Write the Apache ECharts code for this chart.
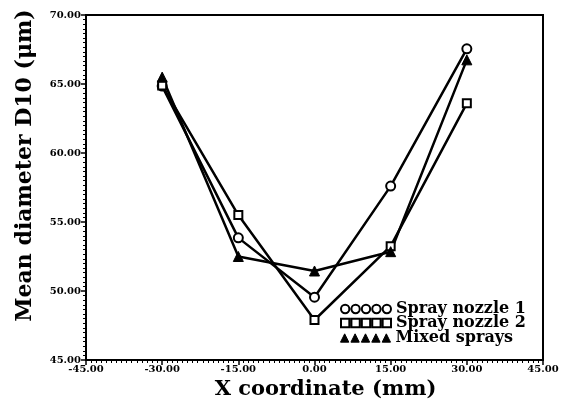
<!DOCTYPE html>
<html>
<head>
<meta charset="utf-8" />
<title>Mean diameter D10</title>
<script src="https://cdn.jsdelivr.net/npm/echarts@6/dist/echarts.min.js"></script>
<style>
  html, body { margin: 0; padding: 0; background: #fff; }
  #chart { width: 564px; height: 403px; }
</style>
</head>
<body>
<div id="chart"></div>
<script type="text/javascript">
// x positions (mm)
var xCoord = [-30, -15, 0, 15, 30];
// D10 values (um)
var nozzle1 = [64.85, 53.85, 49.55, 57.6, 67.55];
var nozzle2 = [64.9, 55.5, 47.9, 53.25, 63.6];
var mixed = [65.5, 52.5, 51.45, 52.85, 66.75];
var seriesNames = ['Spray nozzle 1', 'Spray nozzle 2', 'Mixed sprays'];

var FONT = 'DejaVu Serif';

// legend icons: five markers in a row
var iconCircles = 'path://M1,5a4,4 0 1,0 8,0a4,4 0 1,0 -8,0M11,5a4,4 0 1,0 8,0a4,4 0 1,0 -8,0M21,5a4,4 0 1,0 8,0a4,4 0 1,0 -8,0M31,5a4,4 0 1,0 8,0a4,4 0 1,0 -8,0M41,5a4,4 0 1,0 8,0a4,4 0 1,0 -8,0';
var iconSquares = 'path://M1,1h8v8h-8ZM11,1h8v8h-8ZM21,1h8v8h-8ZM31,1h8v8h-8ZM41,1h8v8h-8Z';
var iconTriangles = 'path://M5,1L9,9L1,9ZM15,1L19,9L11,9ZM25,1L29,9L21,9ZM35,1L39,9L31,9ZM45,1L49,9L41,9Z';
var legendIcons = [iconCircles, iconSquares, iconTriangles];
var legendTops = [301, 315, 330];

function pairs(vals) {
  var out = [];
  for (var i = 0; i < xCoord.length; i++) {
    out.push([xCoord[i], vals[i]]);
  }
  return out;
}

function fmt(v) { return v.toFixed(2); }

// one legend box per row so the rows sit tight like the original
var legends = [];
for (var i = 0; i < seriesNames.length; i++) {
  legends.push({
    left: 340, top: legendTops[i],
    itemWidth: 50, itemHeight: 9,
    padding: 0,
    textStyle: { fontFamily: FONT, fontWeight: 'bold', fontSize: 16, color: '#000' },
    data: [{
      name: seriesNames[i], icon: legendIcons[i],
      itemStyle: i < 2 ? { color: '#fff', borderColor: '#000', borderWidth: 2 }
                       : { color: '#000', borderColor: '#000', borderWidth: 1 }
    }]
  });
}

var myChart = echarts.init(document.getElementById('chart'));
var option = {
  animation: false,
  backgroundColor: '#fff',
  grid: {
    left: 86, right: 21, top: 15, bottom: 43,
    outerBoundsMode: 'none',
    show: true, borderColor: '#000', borderWidth: 2
  },
  legend: legends,
  xAxis: {
    type: 'value', min: -45, max: 45, interval: 15,
    name: 'X coordinate (mm)', nameLocation: 'middle', nameGap: 19,
    nameTextStyle: { fontFamily: FONT, fontWeight: 'bold', fontSize: 21, color: '#000', padding: [0, 0, 0, 22] },
    axisLine: { onZero: false, lineStyle: { color: '#000', width: 2 } },
    axisTick: { inside: false, length: 5, lineStyle: { color: '#000', width: 1.5 } },
    minorTick: { show: true, splitNumber: 15, length: 3, lineStyle: { color: '#000', width: 1 } },
    axisLabel: { formatter: fmt, margin: 4, fontFamily: FONT, fontWeight: 'bold', fontSize: 10, color: '#000' },
    splitLine: { show: false }
  },
  yAxis: {
    type: 'value', min: 45, max: 70, interval: 5,
    name: 'Mean diameter D10 (\u03bcm)', nameLocation: 'middle', nameGap: 50,
    nameTextStyle: { fontFamily: FONT, fontWeight: 'bold', fontSize: 22, color: '#000', padding: [0, 0, 0, 44] },
    axisLine: { onZero: false, lineStyle: { color: '#000', width: 2 } },
    axisTick: { inside: false, length: 5, lineStyle: { color: '#000', width: 1.5 } },
    minorTick: { show: true, splitNumber: 15, length: 3, lineStyle: { color: '#000', width: 1 } },
    axisLabel: { formatter: fmt, margin: 5, fontFamily: FONT, fontWeight: 'bold', fontSize: 10, color: '#000' },
    splitLine: { show: false }
  },
  series: [
    {
      name: seriesNames[0], type: 'line', data: pairs(nozzle1),
      symbol: 'circle', symbolSize: 9,
      lineStyle: { color: '#000', width: 2.5 },
      itemStyle: { color: '#fff', borderColor: '#000', borderWidth: 2 }
    },
    {
      name: seriesNames[1], type: 'line', data: pairs(nozzle2),
      symbol: 'rect', symbolSize: 8,
      lineStyle: { color: '#000', width: 2.5 },
      itemStyle: { color: '#fff', borderColor: '#000', borderWidth: 2 }
    },
    {
      name: seriesNames[2], type: 'line', data: pairs(mixed),
      symbol: 'triangle', symbolSize: 10,
      lineStyle: { color: '#000', width: 2.5 },
      itemStyle: { color: '#000', borderColor: '#000', borderWidth: 1 }
    }
  ]
};
myChart.setOption(option);
</script>
</body>
</html>
